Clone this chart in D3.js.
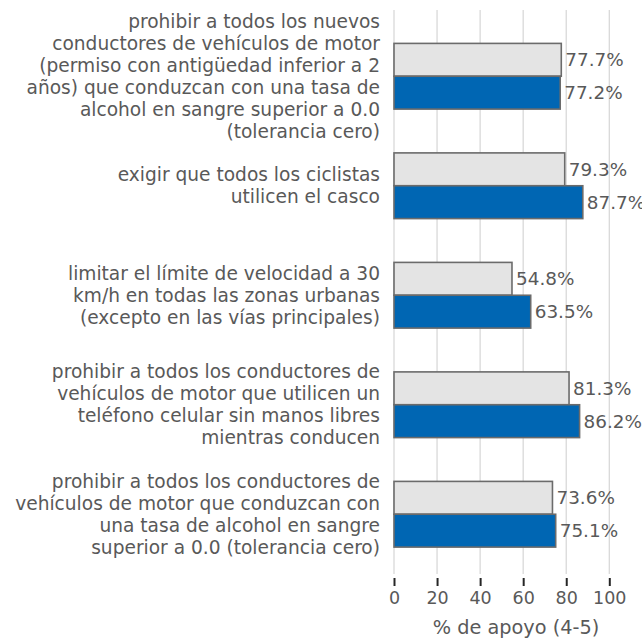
<!DOCTYPE html>
<html><head><meta charset="utf-8">
<script src="https://cdn.jsdelivr.net/npm/d3@7"></script>
<style>body{margin:0;background:#fff}text{font-family:"DejaVu Sans",Verdana,sans-serif}</style>
</head><body>
<svg id="c" width="642" height="639"></svg>
<script>
const categories = [
  ["prohibir a todos los nuevos","conductores de vehículos de motor","(permiso con antigüedad inferior a 2","años) que conduzcan con una tasa de","alcohol en sangre superior a 0.0","(tolerancia cero)"],
  ["exigir que todos los ciclistas","utilicen el casco"],
  ["limitar el límite de velocidad a 30","km/h en todas las zonas urbanas","(excepto en las vías principales)"],
  ["prohibir a todos los conductores de","vehículos de motor que utilicen un","teléfono celular sin manos libres","mientras conducen"],
  ["prohibir a todos los conductores de","vehículos de motor que conduzcan con","una tasa de alcohol en sangre","superior a 0.0 (tolerancia cero)"]
];
const seriesGray = [77.7, 79.3, 54.8, 81.3, 73.6];
const seriesBlue = [77.2, 87.7, 63.5, 86.2, 75.1];
const xTicks = [0, 20, 40, 60, 80, 100];
const axisTitle = "% de apoyo (4-5)";

const svg = d3.select("#c");
const x = d3.scaleLinear().domain([0, 100]).range([394, 609.3]);
const ids = categories.map((d, i) => i);
const y = d3.scaleBand().domain(ids).range([21.5, 569]);
const bh = y.bandwidth() * 0.3;

// grid
svg.append("g").selectAll("line").data(xTicks).join("line")
  .attr("x1", d => x(d)).attr("x2", d => x(d))
  .attr("y1", 10).attr("y2", 574)
  .attr("stroke", "#d9d9d9").attr("stroke-width", 1.3);

// axis
const ax = svg.append("g").attr("transform", "translate(0,578)")
  .call(d3.axisBottom(x).tickValues(xTicks).tickSize(8).tickPadding(6).tickFormat(d3.format("d")));
ax.select(".domain").remove();
ax.selectAll(".tick line").attr("stroke", "#262626").attr("stroke-width", 2);
ax.selectAll(".tick text").attr("fill", "#595959").attr("font-size", 17.5)
  .attr("font-family", '"DejaVu Sans",Verdana,sans-serif');

svg.append("text").attr("x", 516).attr("y", 634).attr("text-anchor", "middle")
  .attr("fill", "#595959").attr("font-size", 19.3).text(axisTitle);

// bars
const g = svg.append("g");
ids.forEach(i => {
  const c = y(i) + y.bandwidth() / 2;
  [[seriesGray[i], "#e4e4e4", c - bh], [seriesBlue[i], "#0066b3", c]].forEach(([v, col, yy]) => {
    g.append("rect").attr("x", x(0)).attr("y", yy).attr("width", x(v) - x(0)).attr("height", bh)
      .attr("fill", col).attr("stroke", "#6b6b6b").attr("stroke-width", 1.6);
    g.append("text").attr("x", x(v) + 4).attr("y", yy + bh / 2).attr("dy", "0.35em")
      .attr("fill", "#595959").attr("font-size", 18.4).text(v.toFixed(1) + "%");
  });
  const lines = categories[i];
  const lh = 22;
  const t = svg.append("text").attr("text-anchor", "end").attr("fill", "#595959").attr("font-size", 18.6);
  lines.forEach((l, k) => {
    t.append("tspan").attr("x", 380).attr("y", c + (k - (lines.length - 1) / 2) * lh).attr("dy", "0.35em").text(l);
  });
});
</script>
</body></html>
